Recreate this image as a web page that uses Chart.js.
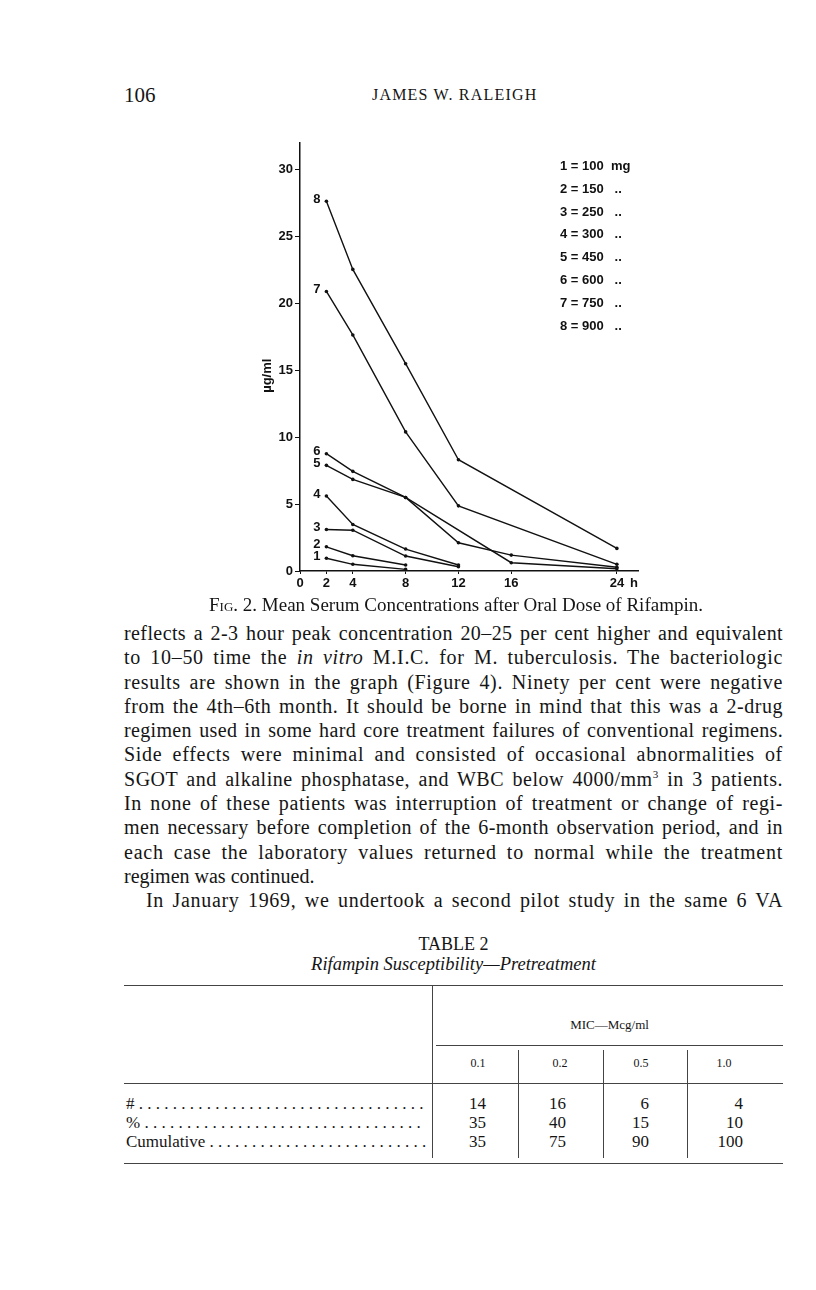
<!DOCTYPE html>
<html>
<head>
<meta charset="utf-8">
<script src="https://cdn.jsdelivr.net/npm/chart.js@4"></script>
<style>
  body { margin: 0; background: #fff; }
  #page { position: relative; width: 816px; height: 1290px; overflow: hidden;
          font-family: "Liberation Serif", "DejaVu Serif", serif; color: #151515; }
  .abs { position: absolute; }
  .ln { height: 24.3px; line-height: 24.3px; font-size: 20px; white-space: nowrap;
        text-align: justify; text-align-last: justify; }
  .ln.last { text-align-last: left; }
  .meas { position: absolute; visibility: hidden; white-space: nowrap; font-size: 20px; }
  .key { position: absolute; left: 560px; font: bold 13px "Liberation Sans", Arial, sans-serif;
         white-space: pre; line-height: 16px; color: #111; }
  .rule { position: absolute; background: #444; height: 1px; }
  .vr { position: absolute; background: #444; width: 1px; }
  .cell { position: absolute; font-size: 17px; text-align: right; width: 40px; }
  .hd { position: absolute; font-size: 12px; text-align: center; width: 40px; }
  .lab { position: absolute; left: 126px; font-size: 17px; white-space: nowrap; }
</style>
</head>
<body>
<div id="page">
  <div class="abs" style="left:124px;top:83px;font-size:21px;">106</div>
  <div class="abs" style="left:372px;top:86px;font-size:16px;letter-spacing:1.2px;">JAMES W. RALEIGH</div>

  <div class="abs" style="left:240px;top:130px;">
    <canvas id="chart" width="420" height="470"></canvas>
  </div>
  <div id="keyBox"></div>

  <div class="abs" style="left:0;width:912px;top:594px;font-size:19px;text-align:center;">
    <span style="font-variant:small-caps;">Fig.</span> 2. Mean Serum Concentrations after Oral Dose of Rifampin.
  </div>

  <div id="body" class="abs" style="left:124px;top:621px;width:659px;">
    <div class="ln">reflects a 2-3 hour peak concentration 20–25 per cent higher and equivalent</div>
    <div class="ln">to 10–50 time the <i>in vitro</i> M.I.C. for M. tuberculosis. The bacteriologic</div>
    <div class="ln">results are shown in the graph (Figure 4). Ninety per cent were negative</div>
    <div class="ln">from the 4th–6th month. It should be borne in mind that this was a 2-drug</div>
    <div class="ln">regimen used in some hard core treatment failures of conventional regimens.</div>
    <div class="ln">Side effects were minimal and consisted of occasional abnormalities of</div>
    <div class="ln">SGOT and alkaline phosphatase, and WBC below 4000/mm<sup style="font-size:11px;line-height:0;">3</sup> in 3 patients.</div>
    <div class="ln">In none of these patients was interruption of treatment or change of regi-</div>
    <div class="ln">men necessary before completion of the 6-month observation period, and in</div>
    <div class="ln">each case the laboratory values returned to normal while the treatment</div>
    <div class="ln last">regimen was continued.</div>
    <div class="ln" style="padding-left:22px;">In January 1969, we undertook a second pilot study in the same 6 VA</div>
  </div>

  <div class="abs" style="left:124px;width:659px;top:934px;font-size:18px;text-align:center;">TABLE 2</div>
  <div class="abs" style="left:124px;width:659px;top:954px;font-size:18.5px;text-align:center;font-style:italic;">Rifampin Susceptibility—Pretreatment</div>

  <div class="rule" style="left:124px;width:659px;top:985px;"></div>
  <div class="vr" style="left:432px;top:985px;height:173px;"></div>
  <div class="abs" style="left:436px;width:347px;top:1017px;font-size:13px;text-align:center;">MIC—Mcg/ml</div>
  <div class="rule" style="left:436px;width:347px;top:1045px;"></div>
  <div class="vr" style="left:518px;top:1050px;height:108px;"></div>
  <div class="vr" style="left:603px;top:1050px;height:108px;"></div>
  <div class="vr" style="left:687px;top:1050px;height:108px;"></div>
  <div class="rule" style="left:124px;width:659px;top:1083px;"></div>
  <div class="rule" style="left:124px;width:659px;top:1163px;"></div>
  <div id="tbl"></div>
</div>

<script>
// hours after dose
const hours = [2, 4, 8, 12, 16, 24];
const xTicks = [0, 2, 4, 8, 12, 16, 24];
const yTicks = [0, 5, 10, 15, 20, 25, 30];
const doses = [100, 150, 250, 300, 450, 600, 750, 900];

// serum level (µg/ml) per dose, null where no reading
const dose1 = [0.95, 0.50, 0.12, null, null, null];
const dose2 = [1.81, 1.14, 0.45, null, null, null];
const dose3 = [3.10, 3.05, 1.12, 0.32, null, null];
const dose4 = [5.61, 3.48, 1.64, 0.45, null, null];
const dose5 = [7.90, 6.85, 5.50, null, 0.62, 0.17];
const dose6 = [8.77, 7.45, 5.50, 2.11, 1.19, 0.28];
const dose7 = [20.9, 17.65, 10.4, 4.87, null, 0.50];
const dose8 = [27.65, 22.55, 15.5, 8.32, null, 1.69];
const series = [dose1, dose2, dose3, dose4, dose5, dose6, dose7, dose8];

// table 2
const micLevels = ['0.1', '0.2', '0.5', '1.0'];
const rowLabels = ['#', '%', 'Cumulative'];
const countRow = [14, 16, 6, 4];
const pctRow = [35, 40, 15, 10];
const cumRow = [35, 75, 90, 100];

const ink = '#111';
const sans = '"Liberation Sans", Arial, sans-serif';

// squeeze/stretch letters a bit so each justified line looks like the print
const page = document.getElementById('page');
document.querySelectorAll('.ln').forEach(ln => {
  if (ln.classList.contains('last')) return;
  const m = document.createElement('span');
  m.className = 'meas';
  m.innerHTML = ln.innerHTML;
  page.appendChild(m);
  const room = 659 - (parseFloat(ln.style.paddingLeft) || 0);
  const n = m.textContent.length;
  let ls = (room - m.offsetWidth) / n * 0.55;
  ls = Math.max(-1, Math.min(0.9, ls));
  ln.style.letterSpacing = ls.toFixed(2) + 'px';
  m.remove();
});

// key in the top right
const keyBox = document.getElementById('keyBox');
doses.forEach((d, i) => {
  const el = document.createElement('div');
  el.className = 'key';
  el.style.top = (158 + i * 22.8) + 'px';
  el.textContent = (i + 1) + ' = ' + d + (i === 0 ? '  mg' : '   ..');
  keyBox.appendChild(el);
});

// table body
const tbl = document.getElementById('tbl');
const colX = [478, 560, 641, 724];
const colRight = [486, 566, 649, 743];
micLevels.forEach((m, j) => {
  const h = document.createElement('div');
  h.className = 'hd';
  h.style.left = (colX[j] - 20) + 'px';
  h.style.top = '1056px';
  h.textContent = m;
  tbl.appendChild(h);
});
[countRow, pctRow, cumRow].forEach((row, r) => {
  const top = 1094 + r * 19;
  const lab = document.createElement('div');
  lab.className = 'lab';
  lab.style.top = top + 'px';
  let txt = rowLabels[r];
  lab.textContent = txt;
  tbl.appendChild(lab);
  while (true) {
    lab.textContent = txt + ' .';
    if (lab.offsetWidth > 300) { lab.textContent = txt; break; }
    txt += ' .';
  }
  row.forEach((v, j) => {
    const c = document.createElement('div');
    c.className = 'cell';
    c.style.left = (colRight[j] - 40) + 'px';
    c.style.top = top + 'px';
    c.textContent = v;
    tbl.appendChild(c);
  });
});

// number labels next to first point, "h" unit, y title
const markLabels = {
  id: 'markLabels',
  afterDatasetsDraw(chart) {
    const ctx = chart.ctx;
    ctx.save();
    ctx.fillStyle = ink;
    ctx.font = 'bold 13px ' + sans;
    ctx.textAlign = 'right';
    ctx.textBaseline = 'middle';
    chart.data.datasets.forEach((ds, i) => {
      const p = chart.getDatasetMeta(i).data[0];
      ctx.fillText(String(i + 1), p.x - 6, p.y - 2);
    });
    const xs = chart.scales.x;
    ctx.textAlign = 'left';
    ctx.fillText('h', xs.getPixelForValue(24) + 13, chart.chartArea.bottom + 12);
    const ys = chart.scales.y;
    ctx.translate(27, ys.getPixelForValue(14.6));
    ctx.rotate(-Math.PI / 2);
    ctx.textAlign = 'center';
    ctx.fillText('µg/ml', 0, 0);
    ctx.restore();
  }
};

new Chart(document.getElementById('chart'), {
  type: 'line',
  data: {
    datasets: series.map(vals => ({
      data: hours.map((h, j) => ({ x: h, y: vals[j] })),
      borderColor: ink,
      borderWidth: 1.4,
      backgroundColor: ink,
      pointRadius: 1.8,
      pointBorderWidth: 0,
      pointBackgroundColor: ink,
      spanGaps: true,
      tension: 0
    }))
  },
  options: {
    responsive: false,
    animation: false,
    devicePixelRatio: 1,
    layout: { padding: { top: 13, right: 22, left: 0, bottom: 0 } },
    plugins: { legend: { display: false }, tooltip: { enabled: false } },
    scales: {
      x: {
        type: 'linear',
        min: 0,
        max: 25.6,
        afterBuildTicks: s => { s.ticks = xTicks.map(v => ({ value: v })); },
        afterFit: s => { s.height = 29; },
        border: { display: true, color: ink, width: 1.5 },
        grid: { drawOnChartArea: false, drawTicks: true, tickLength: 3, color: ink },
        ticks: { color: ink, font: { family: sans, size: 13, weight: 'bold' }, padding: 2, maxRotation: 0 }
      },
      y: {
        min: 0,
        max: 32,
        afterBuildTicks: s => { s.ticks = yTicks.map(v => ({ value: v })); },
        afterFit: s => { s.width = 60; },
        border: { display: true, color: ink, width: 1.5 },
        grid: { drawOnChartArea: false, drawTicks: true, tickLength: 5, color: ink },
        ticks: { color: ink, font: { family: sans, size: 13, weight: 'bold' }, padding: 2 }
      }
    }
  },
  plugins: [markLabels]
});
</script>
</body>
</html>
